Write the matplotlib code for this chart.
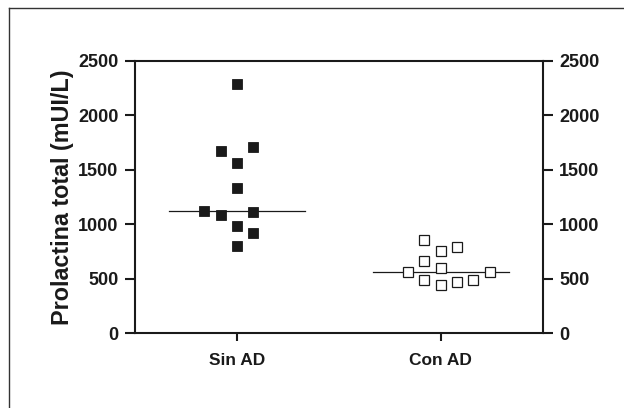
import matplotlib
matplotlib.use("Agg")
import matplotlib.pyplot as plt
from matplotlib.lines import Line2D

plt.rcParams['font.family'] = ['Liberation Sans', 'DejaVu Sans']
plt.rcParams['font.weight'] = 'bold'
plt.rcParams['axes.labelweight'] = 'bold'

# data
groups = ["Sin AD", "Con AD"]
sin_ad = [2290, 1675, 1706, 1565, 1335, 1119, 1088, 1115, 984, 920, 801]
con_ad = [856, 755, 794, 663, 602, 565, 565, 489, 440, 473, 489]
medians = [1120, 560]
yticks = [0, 500, 1000, 1500, 2000, 2500]

# horizontal column of each point within its group (layout only)
sin_cols = [0, -1, 1, 0, 0, -2, -1, 1, 0, 1, 0]
con_cols = [-1, 0, 1, -1, 0, -2, 3, -1, 0, 1, 2]
step = 0.08

fig = plt.figure(figsize=(6.24, 4.08), dpi=100)
ax = fig.add_axes([135 / 624, 1 - 333.3 / 408, (542.7 - 135) / 624, (333.3 - 60.7) / 408])

ax.plot([1 + c * step for c in sin_cols], sin_ad, 's', ms=7.3, mfc='#1a1a1a',
        mec='#1a1a1a', mew=0.6, zorder=3, clip_on=False)
ax.plot([2 + c * step for c in con_cols], con_ad, 's', ms=6.8, mfc='white',
        mec='#1a1a1a', mew=0.9, zorder=3, clip_on=False)
for i, m in enumerate(medians):
    ax.plot([i + 1 - 0.333, i + 1 + 0.333], [m, m], color='#1a1a1a', lw=0.9, zorder=2)

ax.set_xlim(0.5, 2.5)
ax.set_ylim(0, 2500)
ax.set_xticks([1, 2])
ax.set_xticklabels(groups)
ax.set_yticks(yticks)
ax.tick_params(axis='y', which='both', left=True, right=True, labelleft=True,
               labelright=True, length=7, width=1.5, pad=5, labelsize=13,
               colors='#1a1a1a')
ax.tick_params(axis='x', length=6, width=1.5, pad=8, labelsize=12.5, colors='#1a1a1a')
for s in ax.spines.values():
    s.set_linewidth(1.5)
    s.set_color('#1a1a1a')

ax.set_ylabel("Prolactina total (mUI/L)", fontsize=16.8, color='#1a1a1a', labelpad=3)

# frame around the figure (only left and top edges are visible)
fig.add_artist(Line2D([9 / 624, 9 / 624], [0, 1 - 8 / 408], transform=fig.transFigure,
                      color='#333333', lw=1))
fig.add_artist(Line2D([9 / 624, 1], [1 - 8 / 408, 1 - 8 / 408], transform=fig.transFigure,
                      color='#333333', lw=1))

fig.savefig("out.png", dpi=100)
